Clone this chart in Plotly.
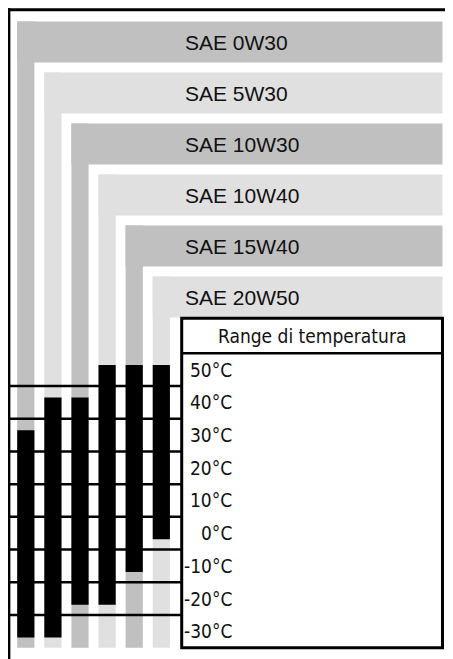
import plotly.graph_objects as go

# oil grades and the temperature range each one covers (°C)
grades = ["SAE 0W30", "SAE 5W30", "SAE 10W30", "SAE 10W40", "SAE 15W40", "SAE 20W50"]
temp_min = [-30, -30, -20, -20, -10, 0]
temp_max = [30, 40, 40, 50, 50, 50]

temp_ticks = [50, 40, 30, 20, 10, 0, -10, -20, -30]
tick_labels = ["50°C", "40°C", "30°C", "20°C", "10°C", "0°C", "-10°C", "-20°C", "-30°C"]
header = "Range di temperatura"

DARK = "#c0c0c0"
LIGHT = "#e0e0e0"
BAR_W = 0.635           # column width in x units
PAD_TOP, PAD_BOT = 1.45, 1.85
BAND_TOP, BAND_STEP, BAND_H = 156.4, 15.59, 12.53
BOX_L, BOX_R = 5.753, 15.376
FRAME_X, FRAME_Y = -0.625, 160.0
# the page body adds an 8px margin, so the figure is 8px smaller than the window
X_RANGE = [-0.657, 15.764]
Y_RANGE = [-38.46, 160.56]

row_half = (temp_ticks[0] - temp_ticks[1]) / 2
row_top = temp_ticks[0] + row_half
row_bot = temp_ticks[-1] - row_half
box_top = row_top + 10.7

fig = go.Figure()
shapes = []

# grey L-shaped bands, one per grade
for i, name in enumerate(grades):
    col = DARK if i % 2 == 0 else LIGHT
    top = BAND_TOP - i * BAND_STEP
    shapes.append(dict(type="rect", xref="x", yref="y", layer="below",
                       x0=i - BAR_W / 2, x1=BOX_R, y0=top - BAND_H, y1=top,
                       fillcolor=col, line_width=0))
    shapes.append(dict(type="rect", xref="x", yref="y", layer="below",
                       x0=i - BAR_W / 2, x1=i + BAR_W / 2, y0=row_bot, y1=top,
                       fillcolor=col, line_width=0))
    fig.add_annotation(x=BOX_L + 0.06, y=top - BAND_H / 2, text=name, showarrow=False,
                       xanchor="left", yanchor="middle",
                       font=dict(family="Liberation Sans, Arial", size=21, color="#111"))

# black temperature bars
fig.add_trace(go.Bar(
    x=list(range(len(grades))),
    base=[lo - PAD_BOT for lo in temp_min],
    y=[(hi + PAD_TOP) - (lo - PAD_BOT) for lo, hi in zip(temp_min, temp_max)],
    width=BAR_W, marker=dict(color="black", line_width=0),
    hoverinfo="skip", showlegend=False,
))

# row separators
for t in temp_ticks[:-1]:
    shapes.append(dict(type="line", xref="x", yref="y", x0=FRAME_X, x1=BOX_L,
                       y0=t - row_half, y1=t - row_half, line=dict(color="black", width=2.5)))

# temperature box
shapes.append(dict(type="rect", xref="x", yref="y", x0=BOX_L, x1=BOX_R, y0=row_bot, y1=box_top,
                   fillcolor="white", line=dict(color="black", width=3)))
shapes.append(dict(type="line", xref="x", yref="y", x0=BOX_L, x1=BOX_R, y0=row_top, y1=row_top,
                   line=dict(color="black", width=2.5)))

# outer frame (top and left only)
shapes.append(dict(type="line", xref="x", yref="y", x0=X_RANGE[0], x1=X_RANGE[1],
                   y0=FRAME_Y, y1=FRAME_Y, line=dict(color="black", width=3)))
shapes.append(dict(type="line", xref="x", yref="y", x0=FRAME_X, x1=FRAME_X,
                   y0=Y_RANGE[0], y1=FRAME_Y + 0.45, line=dict(color="black", width=3)))

narrow = "Liberation Sans Narrow, Arial Narrow, DejaVu Sans Condensed, sans-serif"
fig.add_annotation(x=(BOX_L + BOX_R) / 2, y=(row_top + box_top) / 2, text=header,
                   showarrow=False, xanchor="center", yanchor="middle",
                   font=dict(family=narrow, size=19, color="#111"))
for t, lab in zip(temp_ticks, tick_labels):
    fig.add_annotation(x=7.68, y=t, text=lab, showarrow=False,
                       xanchor="right", yanchor="middle",
                       font=dict(family=narrow, size=19, color="#111"))

fig.update_layout(
    width=445, height=651,
    margin=dict(l=0, r=0, t=0, b=0, pad=0),
    paper_bgcolor="white", plot_bgcolor="white",
    shapes=shapes, barmode="overlay",
    xaxis=dict(range=X_RANGE, visible=False, fixedrange=True),
    yaxis=dict(range=Y_RANGE, visible=False, fixedrange=True),
)

fig.write_html("out.html")
